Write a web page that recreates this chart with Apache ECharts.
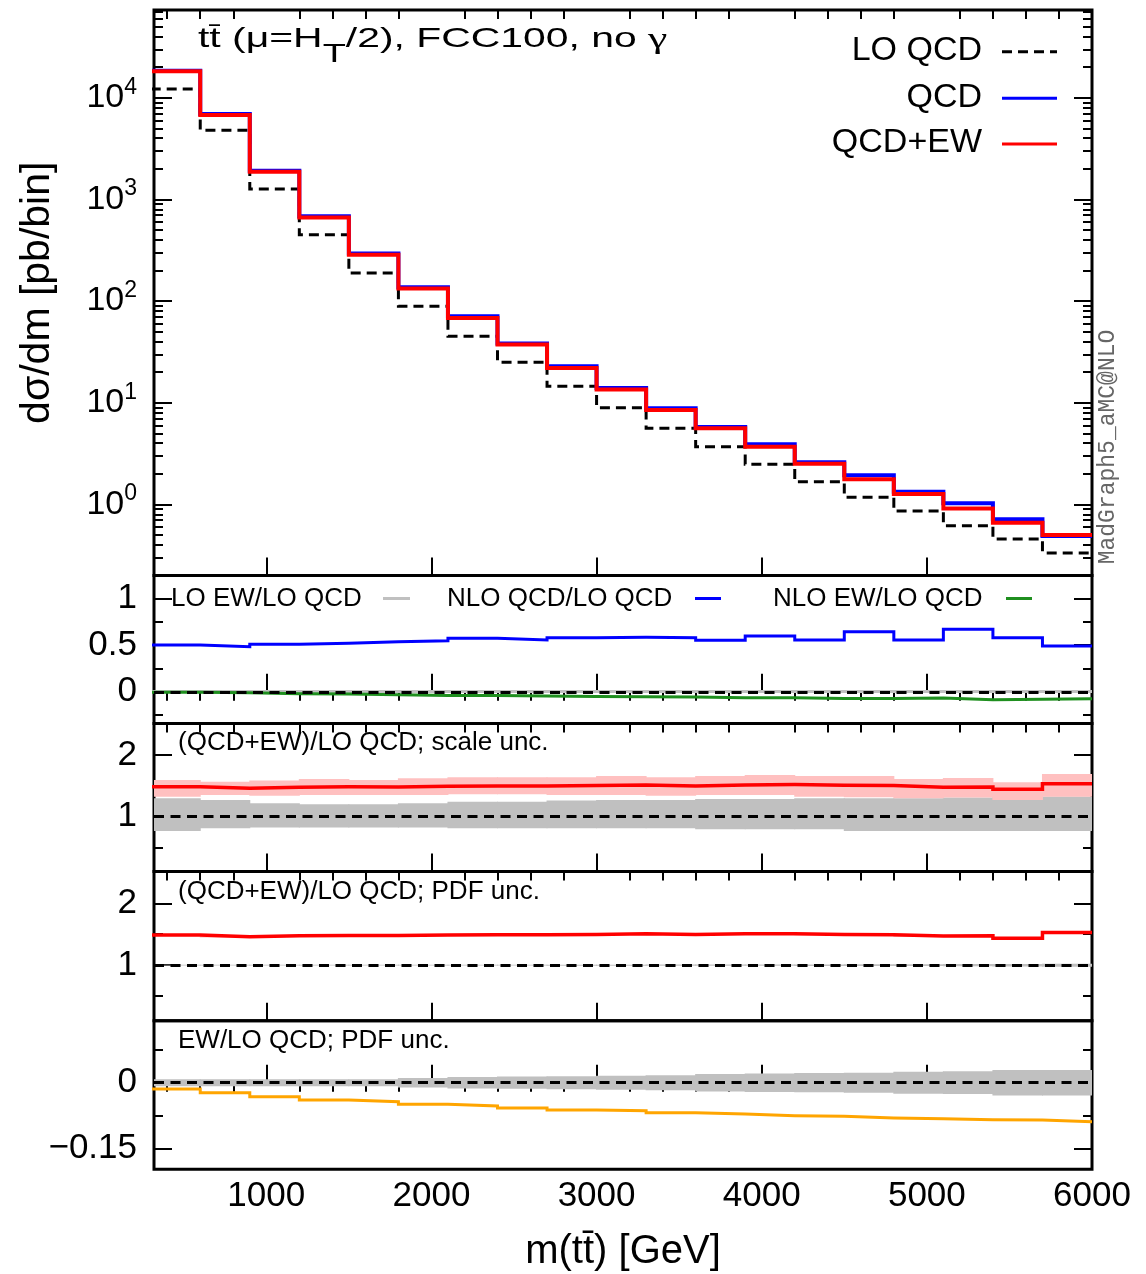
<!DOCTYPE html>
<html>
<head>
<meta charset="utf-8">
<script src="https://cdn.jsdelivr.net/npm/echarts@6/dist/echarts.min.js"></script>
<style>
  html, body { margin: 0; padding: 0; background: #fff; }
  #chart { width: 1146px; height: 1274px; }
</style>
</head>
<body>
<div id="chart"></div>
<script>
// m(tt̄) bin edges [GeV]
const binEdges = [300, 600, 900, 1200, 1500, 1800, 2100, 2400, 2700, 3000, 3300,
                  3600, 3900, 4200, 4500, 4800, 5100, 5400, 5700, 6000];

// dσ/dm per bin [pb/bin]
const loQcd    = [12200, 4790, 1270, 449, 189, 89.0, 45.2, 25.1, 14.5, 8.93, 5.61,
                  3.70, 2.48, 1.67, 1.18, 0.860, 0.617, 0.457, 0.333];
const nloQcd   = [18400, 6920, 1920, 684, 294, 137, 71.0, 38.3, 22.9, 14.0, 8.81,
                  5.78, 3.91, 2.60, 1.94, 1.33, 1.03, 0.714, 0.490];
const nloQcdEw = [18200, 6760, 1870, 664, 286, 133, 68.2, 37.4, 22.0, 13.5, 8.47,
                  5.61, 3.70, 2.52, 1.77, 1.27, 0.912, 0.660, 0.500];

// corrections relative to LO QCD
const loEwOverLo   = [0.004, 0.004, 0.004, 0.004, 0.004, 0.004, 0.004, 0.004, 0.004, 0.004,
                      0.004, 0.004, 0.004, 0.004, 0.004, 0.004, 0.004, 0.004, 0.004];
const nloQcdOverLo = [0.500, 0.482, 0.508, 0.519, 0.536, 0.547, 0.572, 0.554, 0.579, 0.583,
                      0.579, 0.551, 0.597, 0.554, 0.643, 0.554, 0.669, 0.579, 0.490];
const nloEwOverLo  = [-0.005, -0.011, -0.021, -0.025, -0.032, -0.039, -0.039, -0.046, -0.050, -0.053,
                      -0.057, -0.064, -0.064, -0.071, -0.071, -0.068, -0.086, -0.079, -0.075];

// (QCD+EW)/LO QCD with scale uncertainty
const scaleRatio     = [1.486, 1.460, 1.476, 1.486, 1.480, 1.492, 1.497, 1.497, 1.503, 1.513,
                        1.497, 1.513, 1.519, 1.508, 1.503, 1.476, 1.481, 1.443, 1.535];
const scaleRatioUp   = [1.595, 1.567, 1.584, 1.611, 1.595, 1.622, 1.638, 1.638, 1.638, 1.660,
                        1.638, 1.660, 1.676, 1.660, 1.660, 1.611, 1.627, 1.557, 1.692];
const scaleRatioDown = [1.324, 1.352, 1.340, 1.352, 1.352, 1.352, 1.362, 1.362, 1.352, 1.352,
                        1.340, 1.352, 1.352, 1.324, 1.313, 1.297, 1.308, 1.270, 1.324];
const loScaleUp      = [1.298, 1.270, 1.217, 1.200, 1.200, 1.217, 1.243, 1.243, 1.260, 1.270,
                        1.270, 1.287, 1.287, 1.298, 1.298, 1.298, 1.309, 1.325, 1.325];
const loScaleDown    = [0.768, 0.812, 0.822, 0.822, 0.822, 0.822, 0.812, 0.812, 0.812, 0.812,
                        0.812, 0.796, 0.796, 0.796, 0.768, 0.768, 0.768, 0.768, 0.768];

// (QCD+EW)/LO QCD with PDF uncertainty
const pdfRatio     = [1.486, 1.459, 1.475, 1.481, 1.481, 1.486, 1.492, 1.492, 1.497, 1.508,
                      1.497, 1.508, 1.508, 1.497, 1.492, 1.470, 1.475, 1.437, 1.530];
const pdfRatioUp   = [1.498, 1.471, 1.487, 1.493, 1.493, 1.498, 1.504, 1.504, 1.509, 1.520,
                      1.509, 1.521, 1.521, 1.510, 1.505, 1.483, 1.489, 1.451, 1.546];
const pdfRatioDown = [1.474, 1.447, 1.463, 1.469, 1.469, 1.474, 1.480, 1.480, 1.485, 1.496,
                      1.485, 1.495, 1.495, 1.484, 1.479, 1.457, 1.461, 1.423, 1.514];
const loPdfUp      = [1.005, 1.005, 1.005, 1.006, 1.006, 1.006, 1.007, 1.007, 1.008, 1.008,
                      1.009, 1.010, 1.011, 1.012, 1.013, 1.015, 1.017, 1.020, 1.024];
const loPdfDown    = [0.995, 0.995, 0.995, 0.994, 0.994, 0.994, 0.993, 0.993, 0.992, 0.992,
                      0.991, 0.990, 0.989, 0.988, 0.987, 0.985, 0.983, 0.980, 0.976];

// EW/LO QCD with PDF uncertainty
const ewOverLo  = [-0.0144, -0.0229, -0.0320, -0.0396, -0.0434, -0.0495, -0.0533, -0.0579, -0.0625, -0.0640,
                   -0.0686, -0.0716, -0.0754, -0.0769, -0.0807, -0.0822, -0.0845, -0.0853, -0.0891];
const ewPdfUp   = [0.008, 0.008, 0.008, 0.008, 0.008, 0.011, 0.013, 0.014, 0.015, 0.016,
                   0.017, 0.020, 0.021, 0.022, 0.023, 0.025, 0.026, 0.029, 0.029];
const ewPdfDown = [-0.008, -0.008, -0.008, -0.008, -0.008, -0.011, -0.013, -0.014, -0.015, -0.016,
                   -0.017, -0.020, -0.021, -0.022, -0.023, -0.025, -0.026, -0.029, -0.029];

// axis ticks
const xTickLabels = [1000, 2000, 3000, 4000, 5000, 6000];
const xMinorTicks = [400, 600, 800, 1200, 1400, 1600, 1800, 2200, 2400, 2600, 2800, 3200, 3400,
                     3600, 3800, 4200, 4400, 4600, 4800, 5200, 5400, 5600, 5800];
const mainDecades = [1, 10, 100, 1000, 10000];

const FONT = "'Liberation Sans', Arial, Helvetica, sans-serif";
const X_MIN = 320, X_MAX = 6000;
const GRID_LEFT = 154, GRID_RIGHT = 54;

const logMinorTicks = [];
for (let k = -1; k <= 4; k++) {
  for (let m = 2; m <= 9; m++) logMinorTicks.push(m * Math.pow(10, k));
}

function ratioLabel(v) {
  const s = String(+v.toFixed(3));
  return s.charAt(0) === '-' ? '\u2212' + s.slice(1) : s;
}

const panels = [
  { top: 10, height: 565.5, type: 'log', min: 0.2, max: 73000,
    major: mainDecades, minor: logMinorTicks,
    label: v => '{b|10}{s|' + Math.round(Math.log10(v)) + '}' },
  { top: 575.5, height: 148, min: -0.34, max: 1.245,
    major: [0, 0.5, 1], minor: [-0.25, 0.25, 0.75], label: ratioLabel },
  { top: 723.5, height: 148, min: 0.11, max: 2.51,
    major: [1, 2], minor: [0.5, 1.5], label: ratioLabel },
  { top: 871.5, height: 149.3, min: 0.1, max: 2.515,
    major: [1, 2], minor: [0.5, 1.5], label: ratioLabel },
  { top: 1020.8, height: 148.5, min: -0.198, max: 0.1415,
    major: [-0.15, 0], minor: [-0.075, 0.075], label: ratioLabel }
];

const tickStyle = { color: '#000', width: 2 };
const grids = [], xAxes = [], yAxes = [];

panels.forEach((p, g) => {
  const last = g === panels.length - 1;
  grids.push({ left: GRID_LEFT, right: GRID_RIGHT, top: p.top, height: p.height,
               show: true, borderColor: '#000', borderWidth: 3, backgroundColor: 'transparent' });
  // major and minor x ticks
  xAxes.push({
    type: 'value', gridIndex: g, min: X_MIN, max: X_MAX,
    axisLine: { show: false }, splitLine: { show: false },
    axisTick: { show: true, inside: true, length: 18, customValues: xTickLabels, lineStyle: tickStyle },
    axisLabel: { show: last, customValues: xTickLabels, margin: 10, formatter: v => String(v),
                 fontFamily: FONT, fontSize: 35, color: '#000' },
    name: last ? 'm(tt\u0304) [GeV]' : '', nameLocation: 'middle', nameGap: 63,
    nameTextStyle: { fontFamily: FONT, fontSize: 40, color: '#000' }
  });
  xAxes.push({
    type: 'value', gridIndex: g, min: X_MIN, max: X_MAX,
    axisLine: { show: false }, splitLine: { show: false },
    axisTick: { show: true, inside: true, length: 9, customValues: xMinorTicks, lineStyle: tickStyle },
    axisLabel: { show: false }
  });
  const yBase = { type: p.type || 'value', gridIndex: g, min: p.min, max: p.max,
                  axisLine: { show: false }, splitLine: { show: false } };
  if (p.type === 'log') yBase.logBase = 10;
  yAxes.push(Object.assign({}, yBase, {
    position: 'left',
    axisTick: { show: true, inside: true, length: 18, customValues: p.major, lineStyle: tickStyle },
    axisLabel: {
      show: true, customValues: p.major, margin: 17, formatter: p.label,
      fontFamily: FONT, fontSize: 35, color: '#000',
      rich: {
        b: { fontFamily: FONT, fontSize: 34, color: '#000', lineHeight: 34, verticalAlign: 'bottom',
             padding: [8, 0, 0, 0] },
        s: { fontFamily: FONT, fontSize: 23, color: '#000', lineHeight: 23, verticalAlign: 'bottom',
             padding: [0, 0, 16, 0] }
      }
    },
    name: g === 0 ? 'd\u03c3/dm [pb/bin]' : '', nameLocation: 'middle', nameGap: 96,
    nameTextStyle: { fontFamily: FONT, fontSize: 41, color: '#000' }
  }));
  yAxes.push(Object.assign({}, yBase, {
    position: 'left',
    axisTick: { show: true, inside: true, length: 9, customValues: p.minor, lineStyle: tickStyle },
    axisLabel: { show: false }
  }));
  yAxes.push(Object.assign({}, yBase, {
    position: 'right',
    axisTick: { show: true, inside: true, length: 18, customValues: p.major, lineStyle: tickStyle },
    axisLabel: { show: false }
  }));
  yAxes.push(Object.assign({}, yBase, {
    position: 'right',
    axisTick: { show: true, inside: true, length: 9, customValues: p.minor, lineStyle: tickStyle },
    axisLabel: { show: false }
  }));
});

// histogram as a step line through the bin edges
function stepData(vals) {
  return binEdges.map((e, i) => [e, vals[Math.min(i, vals.length - 1)]]);
}
function stepLine(name, g, vals, color, width, dash, z, refLine) {
  const s = {
    type: 'line', name, xAxisIndex: 2 * g, yAxisIndex: 4 * g,
    data: stepData(vals), step: 'end', symbol: 'none', showSymbol: false,
    lineStyle: { color, width, type: dash || 'solid', cap: 'butt', join: 'miter' },
    z, silent: true, animation: false, clip: true
  };
  if (refLine !== undefined) {
    s.markLine = {
      silent: true, symbol: 'none', animation: false, label: { show: false },
      lineStyle: { color: '#000', width: 3, type: [10, 6.5] },
      data: [{ yAxis: refLine }]
    };
  }
  return s;
}
// uncertainty band: one filled rectangle per bin
function band(name, g, lo, hi, color, z) {
  return {
    type: 'custom', name, xAxisIndex: 2 * g, yAxisIndex: 4 * g, z, silent: true, animation: false,
    data: lo.map((l, i) => [binEdges[i], binEdges[i + 1], l, hi[i]]),
    encode: { x: [0, 1], y: [2, 3] },
    renderItem(params, api) {
      const p0 = api.coord([api.value(0), api.value(3)]);
      const p1 = api.coord([api.value(1), api.value(2)]);
      const cs = params.coordSys;
      const rect = echarts.graphic.clipRectByRect(
        { x: p0[0] - 0.5, y: p0[1], width: p1[0] - p0[0] + 1, height: p1[1] - p0[1] },
        { x: cs.x, y: cs.y, width: cs.width, height: cs.height });
      return rect && { type: 'rect', shape: rect, style: { fill: color } };
    }
  };
}

const series = [
  stepLine('LO QCD', 0, loQcd, '#000', 3, [10, 6], 3),
  stepLine('QCD', 0, nloQcd, '#0000ff', 4, null, 4),
  stepLine('QCD+EW', 0, nloQcdEw, '#ff0000', 4, null, 5),

  stepLine('LO EW/LO QCD', 1, loEwOverLo, '#c0c0c0', 3, null, 2),
  stepLine('NLO EW/LO QCD', 1, nloEwOverLo, '#1f8f1f', 3, null, 3),
  stepLine('NLO QCD/LO QCD', 1, nloQcdOverLo, '#0000ff', 3, null, 4, 0),

  band('LO QCD scale unc.', 2, loScaleDown, loScaleUp, '#c0c0c0', 1),
  band('QCD+EW scale unc.', 2, scaleRatioDown, scaleRatioUp, '#ffc0c0', 1),
  stepLine('(QCD+EW)/LO QCD scale', 2, scaleRatio, '#ff0000', 3.5, null, 4, 1),

  band('LO QCD PDF unc.', 3, loPdfDown, loPdfUp, '#c0c0c0', 1),
  band('QCD+EW PDF unc.', 3, pdfRatioDown, pdfRatioUp, '#ffc0c0', 1),
  stepLine('(QCD+EW)/LO QCD PDF', 3, pdfRatio, '#ff0000', 3.5, null, 4, 1),

  band('EW PDF unc.', 4, ewPdfDown, ewPdfUp, '#c0c0c0', 1),
  stepLine('EW/LO QCD', 4, ewOverLo, '#ffa500', 3, null, 4, 0)
];

function label(text, x, y, size, align, extra) {
  return Object.assign({
    type: 'text', x, y, silent: true,
    style: { text, fontFamily: FONT, fontSize: size, fill: '#000',
             textAlign: align || 'left', align: align || 'left',
             textVerticalAlign: 'middle', verticalAlign: 'middle' }
  }, extra || {});
}
function sample(x1, x2, y, color, dash) {
  return { type: 'line', silent: true,
           shape: { x1, y1: y, x2, y2: y },
           style: { stroke: color, lineWidth: 3, lineDash: dash || null } };
}

const graphic = [
  // plot title
  { type: 'text', x: 198, y: 25, scaleX: 1.46, silent: true,
    style: {
      text: '{a|tt\u0304 (\u03bc=H}{sub|T}{a|/2), FCC100, no }{g|\u03b3}',
      textVerticalAlign: 'top', verticalAlign: 'top',
      rich: {
        a: { fontFamily: FONT, fontSize: 28, fill: '#000', lineHeight: 30, verticalAlign: 'top' },
        sub: { fontFamily: FONT, fontSize: 26, fill: '#000', lineHeight: 26, verticalAlign: 'top',
               padding: [17, 0, 0, 0] },
        g: { fontFamily: "'Liberation Serif', serif", fontSize: 30, fill: '#000', lineHeight: 30,
             verticalAlign: 'top' }
      }
    } },
  // main legend
  label('LO QCD', 982, 51, 34, 'right'),
  sample(1002, 1057, 51.7, '#000', [10, 6]),
  label('QCD', 982, 97.5, 34, 'right'),
  sample(1002, 1057, 98.3, '#0000ff'),
  label('QCD+EW', 982, 143, 34, 'right'),
  sample(1002, 1057, 144, '#ff0000'),
  // generator tag
  { type: 'text', x: 1108, y: 447, rotation: Math.PI / 2, silent: true,
    style: { text: 'MadGraph5_aMC@NLO', fontFamily: "'Liberation Mono', 'DejaVu Sans Mono', monospace",
             fontSize: 23, fill: '#666', textAlign: 'center', align: 'center',
             textVerticalAlign: 'middle', verticalAlign: 'middle' } },
  // ratio legend
  label('LO EW/LO QCD', 171, 599, 26),
  sample(383, 410, 598.5, '#c0c0c0'),
  label('NLO QCD/LO QCD', 447, 599, 26),
  sample(695, 721, 598.5, '#0000ff'),
  label('NLO EW/LO QCD', 773, 599, 26),
  sample(1006, 1032, 598.5, '#1f8f1f'),
  // panel captions
  label('(QCD+EW)/LO QCD; scale unc.', 178, 743, 26),
  label('(QCD+EW)/LO QCD; PDF unc.', 178, 891.5, 26),
  label('EW/LO QCD; PDF unc.', 178, 1040.5, 26)
];

const chart = echarts.init(document.getElementById('chart'), null, { renderer: 'canvas' });
chart.setOption({
  animation: false,
  backgroundColor: '#fff',
  textStyle: { fontFamily: FONT },
  grid: grids,
  xAxis: xAxes,
  yAxis: yAxes,
  series,
  graphic
});
</script>
</body>
</html>
